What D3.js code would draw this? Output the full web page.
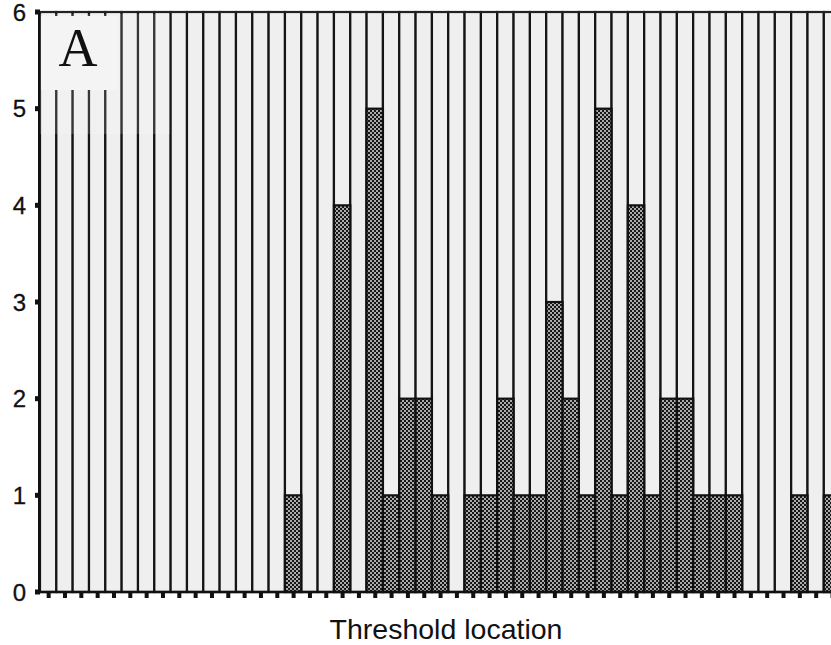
<!DOCTYPE html>
<html>
<head>
<meta charset="utf-8">
<script src="https://cdn.jsdelivr.net/npm/d3@7"></script>
<style>
  body { margin: 0; background: #fff; }
  svg { display: block; }
</style>
</head>
<body>
<div id="chart"></div>
<script>
// threshold locations (columns) and how many hits fell on each
var locations = [1, 2, 3, 4, 5, 6, 7, 8, 9, 10, 11, 12, 13, 14, 15, 16, 17, 18, 19, 20,
                 21, 22, 23, 24, 25, 26, 27, 28, 29, 30, 31, 32, 33, 34, 35, 36, 37, 38, 39, 40,
                 41, 42, 43, 44, 45, 46, 47, 48, 49];
var counts = [0, 0, 0, 0, 0, 0, 0, 0, 0, 0, 0, 0, 0, 0, 0, 1, 0, 0, 4, 0,
              5, 1, 2, 2, 1, 0, 1, 1, 2, 1, 1, 3, 2, 1, 5, 1, 4, 1, 2, 2,
              1, 1, 1, 0, 0, 0, 1, 0, 1];
var yTicks = [0, 1, 2, 3, 4, 5, 6];
var yMax = 6;
var panelLabel = "A";
var xTitle = "Threshold location";

var chartWidth = 831,
    chartHeight = 645,
    plotLeft = 40,
    plotTop = 12,
    plotBottom = 592,
    colWidth = 16.33;

var data = locations.map(function(d, i) { return { loc: d, n: counts[i] }; });

var x = d3.scaleBand()
    .domain(locations)
    .range([plotLeft, plotLeft + colWidth * locations.length])
    .padding(0);

var y = d3.scaleLinear()
    .domain([0, yMax])
    .range([plotBottom, plotTop]);

var svg = d3.select("#chart").append("svg")
    .attr("width", chartWidth)
    .attr("height", chartHeight);

// checkered fill for the counted part of a column
var pat = svg.append("defs").append("pattern")
    .attr("id", "checker")
    .attr("patternUnits", "userSpaceOnUse")
    .attr("width", 4)
    .attr("height", 4);
pat.append("rect").attr("width", 4).attr("height", 4).attr("fill", "#ababab");
pat.append("rect").attr("width", 2).attr("height", 2).attr("fill", "#161616");
pat.append("rect").attr("x", 2).attr("y", 2).attr("width", 2).attr("height", 2).attr("fill", "#161616");

// full-height column frames
svg.selectAll("rect.col")
    .data(data)
    .enter().append("rect")
    .attr("class", "col")
    .attr("x", function(d) { return x(d.loc); })
    .attr("y", y(yMax))
    .attr("width", x.bandwidth())
    .attr("height", y(0) - y(yMax))
    .attr("fill", "#efefef")
    .attr("stroke", "#141414")
    .attr("stroke-width", 2.2);

// counted part
svg.selectAll("rect.bar")
    .data(data.filter(function(d) { return d.n > 0; }))
    .enter().append("rect")
    .attr("class", "bar")
    .attr("x", function(d) { return x(d.loc); })
    .attr("y", function(d) { return y(d.n); })
    .attr("width", x.bandwidth())
    .attr("height", function(d) { return y(0) - y(d.n); })
    .attr("fill", "url(#checker)")
    .attr("stroke", "#111")
    .attr("stroke-width", 2.2);

// panel label box
svg.append("rect")
    .attr("x", plotLeft)
    .attr("y", plotTop + 2)
    .attr("width", 130)
    .attr("height", 120)
    .attr("fill", "#fff")
    .attr("opacity", 0.15);
svg.append("rect")
    .attr("x", plotLeft + 1)
    .attr("y", plotTop + 4)
    .attr("width", 77)
    .attr("height", 74)
    .attr("fill", "#f4f4f4");
svg.append("text")
    .attr("x", 78)
    .attr("y", 66)
    .attr("text-anchor", "middle")
    .attr("font-family", "'Liberation Serif', 'Times New Roman', serif")
    .attr("font-size", 54)
    .attr("fill", "#111")
    .text(panelLabel);

// frame lines
svg.append("line")
    .attr("x1", plotLeft).attr("x2", chartWidth)
    .attr("y1", plotTop).attr("y2", plotTop)
    .attr("stroke", "#222").attr("stroke-width", 2);
svg.append("line")
    .attr("x1", plotLeft - 1).attr("x2", plotLeft - 1)
    .attr("y1", plotTop).attr("y2", plotBottom)
    .attr("stroke", "#111").attr("stroke-width", 2);
svg.append("line")
    .attr("x1", plotLeft - 4).attr("x2", chartWidth)
    .attr("y1", plotBottom).attr("y2", plotBottom)
    .attr("stroke", "#111").attr("stroke-width", 2.5);

// y axis: square ticks and labels
var yAxis = svg.append("g");
yAxis.selectAll("rect")
    .data(yTicks)
    .enter().append("rect")
    .attr("x", plotLeft - 5)
    .attr("y", function(d) { return y(d) - 2.5; })
    .attr("width", 5)
    .attr("height", 5)
    .attr("fill", "#111");
yAxis.selectAll("text")
    .data(yTicks)
    .enter().append("text")
    .attr("x", 26)
    .attr("y", function(d) { return y(d); })
    .attr("dy", "0.36em")
    .attr("text-anchor", "end")
    .attr("font-family", "'Liberation Sans', Arial, sans-serif")
    .attr("font-size", 24)
    .attr("fill", "#111")
    .attr("stroke", "#111")
    .attr("stroke-width", 0.3)
    .text(function(d) { return d; });

// x axis: dotted square ticks at column centres
svg.append("g").selectAll("rect")
    .data(locations)
    .enter().append("rect")
    .attr("x", function(d) { return x(d) + x.bandwidth() / 2 - 1.5; })
    .attr("y", plotBottom)
    .attr("width", 4)
    .attr("height", 6)
    .attr("fill", "#111");

svg.append("text")
    .attr("x", 446)
    .attr("y", 639)
    .attr("text-anchor", "middle")
    .attr("font-family", "'Liberation Sans', Arial, sans-serif")
    .attr("font-size", 28.5)
    .attr("fill", "#111")
    .text(xTitle);
</script>
</body>
</html>
